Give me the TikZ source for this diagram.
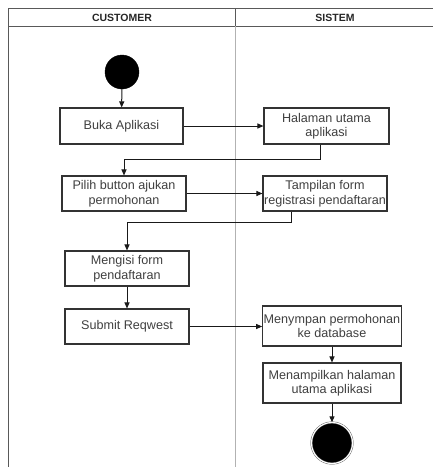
\documentclass[tikz,border=0pt]{standalone}
\usepackage{fontspec}
\setmainfont{Liberation Sans}
\usetikzlibrary{arrows.meta, positioning}

\begin{document}
\begin{tikzpicture}[
  x=1pt, y=-1pt,
  act/.style={rectangle, draw=black!80, line width=1.1pt, fill=white, text=black!75,
    align=center, font=\fontsize{12.6}{14.5}\selectfont, inner sep=1pt},
  start/.style={circle, fill=black, draw=black, minimum size=34pt, inner sep=0pt},
  stop/.style={circle, fill=black, draw=black!70, minimum size=41pt, inner sep=0pt,
    double=white, double distance=1.2pt},
  lane/.style={draw=black!65, line width=1pt},
  flow/.style={-{Triangle[length=6pt,width=5pt]}, black!90, line width=1pt},
  lanetitle/.style={font=\fontsize{10.5}{12}\selectfont\bfseries, text=black!85}
]
\useasboundingbox (0,0) rectangle (433,467);

% Swimlanes
\draw[lane] (433,8.5) -- (8,8.5) -- (8,467);
\draw[lane] (8,26) -- (433,26);
\draw[lane] (235,8.5) -- (235,26);
\draw[draw=black!30, line width=1pt] (235,26) -- (235,467);
\node[lanetitle] (customer) at (122,17.5) {CUSTOMER};
\node[lanetitle] (sistem) at (335,17.5) {SISTEM};

% Customer
\node[start] (mulai) at (122,72) {};
\node[act, minimum width=123pt, minimum height=36pt] (buka) at (121.5,126) {Buka Aplikasi};
\node[act, minimum width=124pt, minimum height=35pt] (pilih) at (124,193.5) {Pilih button ajukan\\permohonan};
\node[act, minimum width=124pt, minimum height=35pt] (isi) at (127,268.5) {Mengisi form\\pendaftaran};
\node[act, minimum width=124pt, minimum height=35pt] (submit) at (127,326.5) {Submit Reqwest};

% Sistem
\node[act, minimum width=125pt, minimum height=36pt] (halaman) at (326.5,126) {Halaman utama\\aplikasi};
\node[act, minimum width=124pt, minimum height=35pt] (form) at (325,193.5) {Tampilan form\\registrasi pendaftaran};
\node[act, minimum width=138pt, minimum height=40pt] (simpan) at (332,326) {Menympan permohonan\\ke database};
\node[act, minimum width=138pt, minimum height=40pt] (tampil) at (332,383) {Menampilkan halaman\\utama aplikasi};
\node[stop] (selesai) at (332,443) {};

% Flow
\draw[flow] (mulai) -- (buka);
\draw[flow] (buka) -- (halaman);
\draw[flow] ([xshift=-6.5pt]halaman.south) -- ++(0,15) -| (pilih.north);
\draw[flow] (pilih) -- (form);
\draw[flow] ([xshift=-34pt]form.south) -- ++(0,11) -| (isi.north);
\draw[flow] (isi) -- (submit);
\draw[flow] (submit) -- (submit -| simpan.west);
\draw[flow] (simpan) -- (tampil);
\draw[flow] (tampil) -- (selesai);

\end{tikzpicture}
\end{document}
